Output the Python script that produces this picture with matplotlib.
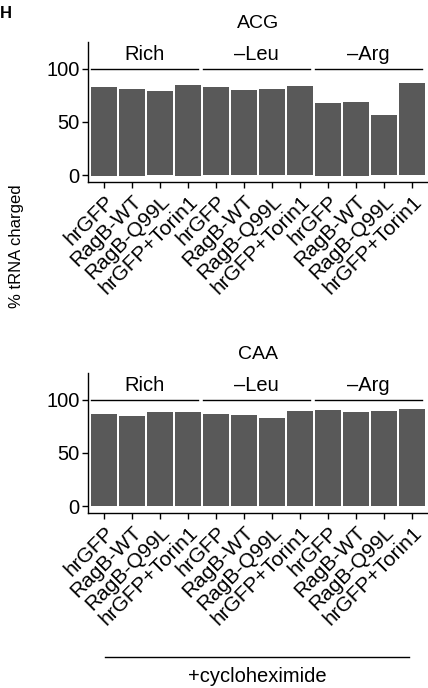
import numpy as np
import matplotlib
matplotlib.use("Agg")
import matplotlib.pyplot as plt

plt.rcParams['font.family'] = ['Liberation Sans', 'DejaVu Sans']

conditions = ['Rich', '\u2013Leu', '\u2013Arg']
samples = ['hrGFP', 'RagB-WT', 'RagB-Q99L', 'hrGFP+Torin1']
# % tRNA charged, 4 samples per condition
acg = [82.7, 80.8, 79.2, 84.6, 82.7, 80.2, 80.8, 84.0, 67.6, 68.6, 56.6, 86.8]
acg_base = [-0.7, -0.7, 0, -0.7, 0, 0, 0, 0, -0.7, -0.7, 0, 0]
caa = [86.9, 85.0, 88.8, 88.8, 86.9, 85.9, 83.1, 89.7, 90.6, 88.8, 89.7, 91.6]
caa_base = [0] * 12

W, H = 428, 688
fig = plt.figure(figsize=(W / 100, H / 100), dpi=100)

ylo, yhi = -6.5, 125
def panel(top_px, vals, base, title):
    ax = fig.add_axes([88 / W, 1 - (top_px + 140) / H, 340 / W, 140 / H])
    x = np.arange(len(vals))
    ax.bar(x, np.array(vals) - np.array(base), bottom=base, width=0.93,
           color='#595959', edgecolor='none')
    ax.set_xlim(-0.57, 11.57)
    ax.set_ylim(ylo, yhi)
    ax.set_yticks([0, 50, 100])
    ax.set_xticks(x)
    ax.set_xticklabels(samples * 3, rotation=45, ha='right', va='top',
                       rotation_mode='anchor', fontsize=15)
    ax.tick_params(axis='y', labelsize=14.5, length=4, width=1, pad=2,
                   colors='black')
    ax.tick_params(axis='x', length=4, width=1, pad=3)
    for s in ['top', 'right']:
        ax.spines[s].set_visible(False)
    for s in ['left', 'bottom']:
        ax.spines[s].set_linewidth(1)
    for i, c in enumerate(conditions):
        x0, x1 = 4 * i - 0.45, 4 * i + 3.36
        ax.plot([x0, x1], [100, 100], color='black', lw=1, clip_on=False)
        ax.text((x0 + x1) / 2, 104, c, ha='center', va='bottom', fontsize=14.5)
    ax.text(5.5, 142, title, ha='center', va='center', fontsize=14,
            clip_on=False)
    return ax

panel(42, acg, acg_base, 'ACG')
panel(373, caa, caa_base, 'CAA')

fig.text(17 / W, 1 - 246 / H, '% tRNA charged', rotation=90, ha='center',
         va='center', fontsize=12)
fig.text(0, 1 - 13 / H, 'H', fontsize=12, fontweight='bold', ha='left',
         va='center')
fig.add_artist(plt.Line2D([105 / W, 409 / W], [1 - 657 / H, 1 - 657 / H],
                          color='black', lw=1))
fig.text(257 / W, 1 - 677 / H, '+cycloheximide', ha='center', va='center',
         fontsize=14.5)

fig.savefig('out.png', dpi=100)
